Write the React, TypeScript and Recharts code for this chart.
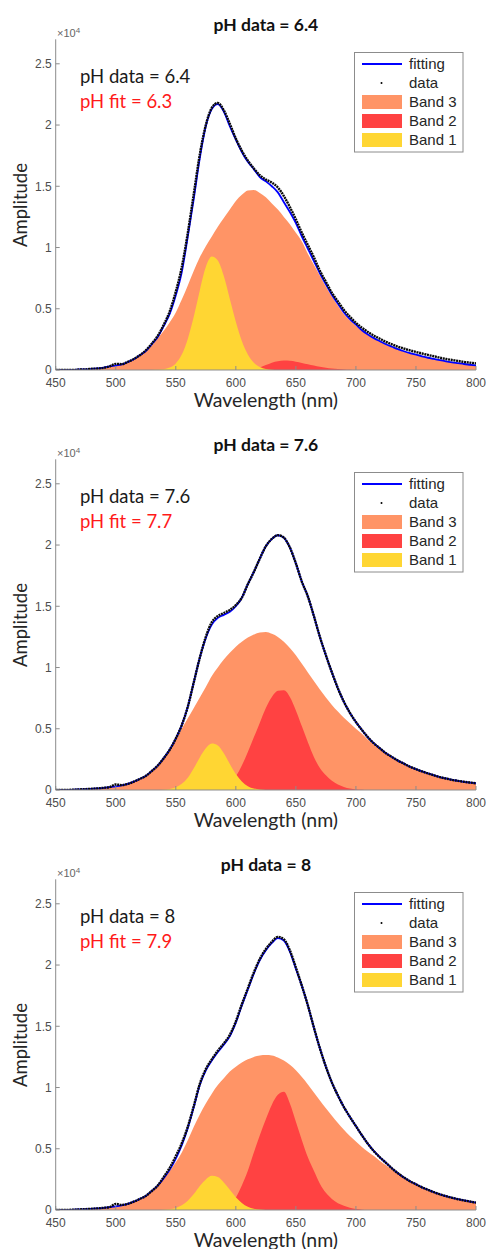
import React from 'react';
import { ComposedChart, Area, Line, XAxis, YAxis } from 'recharts';

// Wavelength samples (nm)
const wavelengths = [
  450, 455, 460, 465, 470, 475, 480, 485, 490, 495,
  500, 505, 510, 515, 520, 525, 530, 535, 540, 545,
  550, 555, 560, 565, 570, 575, 580, 585, 590, 595,
  600, 605, 610, 615, 620, 625, 630, 635, 640, 645,
  650, 655, 660, 665, 670, 675, 680, 685, 690, 695,
  700, 705, 710, 715, 720, 725, 730, 735, 740, 745,
  750, 755, 760, 765, 770, 775, 780, 785, 790, 795,
  800,
];
const xTicks = [450, 500, 550, 600, 650, 700, 750, 800];
const yTicks = [0, 0.5, 1, 1.5, 2, 2.5];

const panelTitles = ['pH data = 6.4', 'pH data = 7.6', 'pH data = 8'];
const phDataLabels = ['pH data = 6.4', 'pH data = 7.6', 'pH data = 8'];
const phFitLabels = ['pH fit = 6.3', 'pH fit = 7.7', 'pH fit = 7.9'];
const legendLabels = ['fitting', 'data', 'Band 3', 'Band 2', 'Band 1'];

// Amplitudes in units of 10^4
// ---- pH 6.4 ----
const fitA = [
  0, 0, 0, 0, 0.005, 0.005, 0.01, 0.013, 0.02, 0.03,
  0.037, 0.045, 0.065, 0.088, 0.12, 0.155, 0.21, 0.27, 0.36, 0.46,
  0.61, 0.8, 1.09, 1.4, 1.73, 1.99, 2.13, 2.17, 2.11, 1.99,
  1.88, 1.78, 1.7, 1.64, 1.575, 1.54, 1.5, 1.45, 1.37, 1.29,
  1.2, 1.09, 0.99, 0.89, 0.79, 0.7, 0.615, 0.54, 0.47, 0.415,
  0.37, 0.325, 0.29, 0.26, 0.235, 0.21, 0.19, 0.17, 0.153, 0.138,
  0.125, 0.112, 0.1, 0.09, 0.08, 0.071, 0.063, 0.056, 0.049, 0.043,
  0.037,
];
const dataA = [
  0, 0, 0, 0, 0.005, 0.005, 0.01, 0.012, 0.018, 0.03,
  0.05, 0.048, 0.066, 0.09, 0.12, 0.16, 0.215, 0.28, 0.37, 0.48,
  0.64, 0.84, 1.12, 1.44, 1.76, 2.0, 2.14, 2.18, 2.12, 2.01,
  1.89, 1.79, 1.71, 1.645, 1.59, 1.555, 1.53, 1.49, 1.42, 1.33,
  1.23, 1.12, 1.02, 0.92, 0.81, 0.72, 0.63, 0.56, 0.49, 0.435,
  0.385, 0.345, 0.31, 0.28, 0.255, 0.23, 0.21, 0.19, 0.175, 0.16,
  0.147, 0.135, 0.123, 0.112, 0.1, 0.09, 0.082, 0.074, 0.066, 0.06,
  0.054,
];
const band3A = [
  0, 0, 0, 0, 0, 0.005, 0.005, 0.01, 0.015, 0.025,
  0.035, 0.045, 0.06, 0.085, 0.115, 0.15, 0.2, 0.26, 0.32, 0.39,
  0.47, 0.575, 0.69, 0.81, 0.92, 1.01, 1.09, 1.17, 1.24, 1.31,
  1.38, 1.43, 1.465, 1.47, 1.445, 1.41, 1.36, 1.31, 1.25, 1.19,
  1.12, 1.05, 0.95, 0.86, 0.77, 0.68, 0.6, 0.525, 0.455, 0.405,
  0.36, 0.32, 0.285, 0.255, 0.23, 0.205, 0.185, 0.165, 0.148, 0.133,
  0.12, 0.108, 0.097, 0.087, 0.077, 0.069, 0.061, 0.054, 0.047, 0.041,
  0.035,
];
const band2A = [
  0, 0, 0, 0, 0, 0, 0, 0, 0, 0,
  0, 0, 0, 0, 0, 0, 0, 0, 0, 0,
  0, 0, 0, 0, 0, 0, 0, 0, 0, 0,
  0, 0, 0, 0.005, 0.02, 0.04, 0.06, 0.072, 0.077, 0.075,
  0.068, 0.058, 0.047, 0.036, 0.026, 0.018, 0.012, 0.008, 0.005, 0.003,
  0.001, 0, 0, 0, 0, 0, 0, 0, 0, 0,
  0, 0, 0, 0, 0, 0, 0, 0, 0, 0,
  0,
];
const band1A = [
  0, 0, 0, 0, 0, 0, 0, 0, 0, 0,
  0, 0, 0, 0, 0, 0, 0.001, 0.002, 0.006, 0.02,
  0.054, 0.126, 0.254, 0.436, 0.65, 0.84, 0.927, 0.895, 0.767, 0.58,
  0.394, 0.236, 0.126, 0.059, 0.025, 0.009, 0.003, 0.001, 0, 0,
  0, 0, 0, 0, 0, 0, 0, 0, 0, 0,
  0, 0, 0, 0, 0, 0, 0, 0, 0, 0,
  0, 0, 0, 0, 0, 0, 0, 0, 0, 0,
  0,
];

// ---- pH 7.6 ----
const fitB = [
  0, 0, 0, 0.003, 0.005, 0.007, 0.01, 0.013, 0.018, 0.024,
  0.03, 0.038, 0.05, 0.068, 0.09, 0.115, 0.155, 0.2, 0.26, 0.33,
  0.42, 0.53, 0.68, 0.88, 1.08, 1.24, 1.35, 1.405, 1.43, 1.455,
  1.5, 1.57, 1.68, 1.78, 1.89, 1.99, 2.05, 2.08, 2.06, 1.98,
  1.85, 1.7, 1.58, 1.42, 1.25, 1.1, 0.96, 0.83, 0.72, 0.63,
  0.555, 0.49, 0.43, 0.38, 0.34, 0.3, 0.27, 0.24, 0.215, 0.19,
  0.17, 0.152, 0.135, 0.12, 0.105, 0.094, 0.083, 0.075, 0.067, 0.061,
  0.055,
];
const dataB = [
  0, 0, 0, 0.003, 0.005, 0.007, 0.01, 0.013, 0.018, 0.024,
  0.045, 0.04, 0.05, 0.068, 0.09, 0.115, 0.155, 0.2, 0.26, 0.33,
  0.42, 0.53, 0.68, 0.88, 1.08, 1.25, 1.37, 1.42, 1.445, 1.47,
  1.51, 1.57, 1.68, 1.78, 1.89, 1.99, 2.05, 2.08, 2.06, 1.98,
  1.85, 1.7, 1.58, 1.42, 1.25, 1.1, 0.96, 0.83, 0.72, 0.63,
  0.555, 0.49, 0.43, 0.38, 0.34, 0.3, 0.27, 0.24, 0.215, 0.19,
  0.17, 0.152, 0.135, 0.12, 0.105, 0.094, 0.083, 0.075, 0.067, 0.061,
  0.055,
];
const band3B = [
  0, 0, 0, 0, 0.005, 0.007, 0.01, 0.013, 0.018, 0.024,
  0.03, 0.038, 0.05, 0.068, 0.09, 0.115, 0.155, 0.2, 0.26, 0.33,
  0.41, 0.5, 0.585, 0.67, 0.755, 0.84, 0.93, 1.0, 1.065, 1.12,
  1.17, 1.21, 1.245, 1.27, 1.285, 1.29, 1.275, 1.25, 1.21, 1.16,
  1.1, 1.03, 0.96, 0.89, 0.82, 0.755, 0.695, 0.64, 0.59, 0.545,
  0.5, 0.46, 0.41, 0.37, 0.33, 0.295, 0.265, 0.235, 0.21, 0.19,
  0.17, 0.15, 0.135, 0.12, 0.105, 0.094, 0.083, 0.075, 0.067, 0.061,
  0.055,
];
const band2B = [
  0, 0, 0, 0, 0, 0, 0, 0, 0, 0,
  0, 0, 0, 0, 0, 0, 0, 0, 0, 0,
  0, 0, 0, 0, 0, 0, 0, 0, 0.02, 0.05,
  0.11, 0.2, 0.31, 0.43, 0.55, 0.67, 0.76, 0.81, 0.815, 0.76,
  0.65, 0.52, 0.39, 0.27, 0.18, 0.12, 0.075, 0.045, 0.025, 0.012,
  0.005, 0.002, 0, 0, 0, 0, 0, 0, 0, 0,
  0, 0, 0, 0, 0, 0, 0, 0, 0, 0,
  0,
];
const band1B = [
  0, 0, 0, 0, 0, 0, 0, 0, 0, 0,
  0, 0, 0, 0, 0, 0, 0, 0, 0.003, 0.008,
  0.022, 0.051, 0.1, 0.178, 0.266, 0.34, 0.379, 0.363, 0.3, 0.213,
  0.13, 0.069, 0.031, 0.012, 0.004, 0.001, 0, 0, 0, 0,
  0, 0, 0, 0, 0, 0, 0, 0, 0, 0,
  0, 0, 0, 0, 0, 0, 0, 0, 0, 0,
  0, 0, 0, 0, 0, 0, 0, 0, 0, 0,
  0,
];

// ---- pH 8 ----
const fitC = [
  0, 0, 0, 0.003, 0.005, 0.007, 0.01, 0.013, 0.018, 0.024,
  0.03, 0.038, 0.05, 0.068, 0.09, 0.115, 0.155, 0.2, 0.26, 0.33,
  0.42, 0.53, 0.67, 0.84, 1.02, 1.14, 1.22, 1.29, 1.35, 1.42,
  1.53, 1.67, 1.8, 1.93, 2.04, 2.12, 2.18, 2.22, 2.2, 2.11,
  1.97, 1.83, 1.67, 1.49, 1.32, 1.17, 1.04, 0.935, 0.84, 0.76,
  0.685, 0.61, 0.54, 0.48, 0.43, 0.385, 0.34, 0.3, 0.265, 0.235,
  0.21, 0.185, 0.165, 0.145, 0.128, 0.113, 0.1, 0.088, 0.078, 0.069,
  0.06,
];
const dataC = [
  0, 0, 0, 0.003, 0.005, 0.007, 0.01, 0.013, 0.018, 0.024,
  0.05, 0.042, 0.05, 0.068, 0.09, 0.115, 0.155, 0.2, 0.27, 0.345,
  0.44, 0.545, 0.68, 0.85, 1.03, 1.15, 1.23, 1.3, 1.36, 1.43,
  1.54, 1.68, 1.81, 1.94, 2.05, 2.13, 2.19, 2.23, 2.21, 2.12,
  1.98, 1.83, 1.67, 1.49, 1.32, 1.17, 1.04, 0.935, 0.84, 0.76,
  0.685, 0.61, 0.54, 0.48, 0.43, 0.385, 0.34, 0.3, 0.265, 0.235,
  0.21, 0.185, 0.165, 0.145, 0.128, 0.113, 0.1, 0.088, 0.078, 0.069,
  0.06,
];
const band3C = [
  0, 0, 0, 0, 0.005, 0.007, 0.01, 0.013, 0.018, 0.024,
  0.03, 0.038, 0.05, 0.068, 0.09, 0.115, 0.155, 0.2, 0.255, 0.32,
  0.39, 0.47, 0.57, 0.68, 0.78, 0.87, 0.95, 1.02, 1.075, 1.13,
  1.17, 1.205, 1.23, 1.25, 1.262, 1.265, 1.262, 1.245, 1.22, 1.185,
  1.14, 1.085, 1.025, 0.96, 0.895, 0.83, 0.77, 0.71, 0.655, 0.605,
  0.56, 0.515, 0.475, 0.44, 0.4, 0.365, 0.33, 0.295, 0.262, 0.233,
  0.208, 0.184, 0.164, 0.144, 0.127, 0.112, 0.099, 0.087, 0.077, 0.068,
  0.059,
];
const band2C = [
  0, 0, 0, 0, 0, 0, 0, 0, 0, 0,
  0, 0, 0, 0, 0, 0, 0, 0, 0, 0,
  0, 0, 0, 0, 0, 0, 0, 0.005, 0.015, 0.04,
  0.1, 0.2, 0.32, 0.47, 0.61, 0.74, 0.86, 0.94, 0.965, 0.87,
  0.72, 0.57, 0.43, 0.32, 0.215, 0.14, 0.09, 0.055, 0.035, 0.018,
  0.008, 0.003, 0, 0, 0, 0, 0, 0, 0, 0,
  0, 0, 0, 0, 0, 0, 0, 0, 0, 0,
  0,
];
const band1C = [
  0, 0, 0, 0, 0, 0, 0, 0, 0, 0,
  0, 0, 0, 0, 0, 0, 0, 0, 0.002, 0.006,
  0.016, 0.038, 0.076, 0.13, 0.196, 0.25, 0.279, 0.27, 0.225, 0.165,
  0.105, 0.058, 0.027, 0.011, 0.004, 0.001, 0, 0, 0, 0,
  0, 0, 0, 0, 0, 0, 0, 0, 0, 0,
  0, 0, 0, 0, 0, 0, 0, 0, 0, 0,
  0, 0, 0, 0, 0, 0, 0, 0, 0, 0,
  0,
];

const COLORS = {
  fit: '#0000FF',
  data: '#0a0a0a',
  band3: '#FF9466',
  band2: '#FF4242',
  band1: '#FFD633',
  axis: '#8c8c8c',
  tick: '#4d4d4d',
  red: '#FF1A1A',
};

const SANS = '"Liberation Sans", Arial, Helvetica, sans-serif';
const CAL = 'Lato, "Open Sans", sans-serif';

type PanelProps = {
  top: number;
  idx: number;
  fit: number[];
  data: number[];
  b1: number[];
  b2: number[];
  b3: number[];
};

function Panel({ top, idx, fit, data, b1, b2, b3 }: PanelProps) {
  const rows = wavelengths.map((nm, i) => ({
    nm,
    fit: fit[i],
    data: data[i],
    band1: b1[i],
    band2: b2[i],
    band3: b3[i],
  }));
  const legendRows = [64, 83, 102, 121, 140];
  const swatchColors = [null, null, COLORS.band3, COLORS.band2, COLORS.band1];
  return (
    <div style={{ position: 'absolute', left: 0, top, width: 487, height: 420 }}>
      <ComposedChart
        width={487}
        height={420}
        data={rows}
        margin={{ top: 39.3, right: 11, bottom: 20, left: 25.7 }}
      >
        <XAxis
          dataKey="nm"
          type="number"
          domain={[450, 800]}
          ticks={xTicks}
          allowDataOverflow
          height={30}
          tickSize={-4}
          tickMargin={12}
          axisLine={{ stroke: COLORS.axis }}
          tickLine={{ stroke: COLORS.axis }}
          tick={{ fill: COLORS.tick, fontSize: 12, fontFamily: SANS }}
        />
        <XAxis
          xAxisId="top"
          orientation="top"
          dataKey="nm"
          type="number"
          domain={[450, 800]}
          ticks={xTicks}
          allowDataOverflow
          height={0}
          tickSize={-4}
          tick={false}
          axisLine={{ stroke: COLORS.axis }}
          tickLine={{ stroke: COLORS.axis }}
        />
        <YAxis
          type="number"
          domain={[0, 2.7]}
          ticks={yTicks}
          allowDataOverflow
          width={30}
          tickSize={-4}
          tickMargin={8}
          axisLine={{ stroke: COLORS.axis }}
          tickLine={{ stroke: COLORS.axis }}
          tick={{ fill: COLORS.tick, fontSize: 12, fontFamily: SANS }}
          tickFormatter={(v: number) => String(v)}
        />
        <YAxis
          yAxisId="right"
          orientation="right"
          type="number"
          domain={[0, 2.7]}
          ticks={yTicks}
          allowDataOverflow
          width={0}
          tickSize={-4}
          tick={false}
          axisLine={{ stroke: COLORS.axis }}
          tickLine={{ stroke: COLORS.axis }}
        />
        <Area
          dataKey="band3"
          type="monotone"
          fill={COLORS.band3}
          fillOpacity={1}
          stroke="none"
          isAnimationActive={false}
          dot={false}
          activeDot={false}
        />
        <Area
          dataKey="band2"
          type="monotone"
          fill={COLORS.band2}
          fillOpacity={1}
          stroke="none"
          isAnimationActive={false}
          dot={false}
          activeDot={false}
        />
        <Area
          dataKey="band1"
          type="monotone"
          fill={COLORS.band1}
          fillOpacity={1}
          stroke="none"
          isAnimationActive={false}
          dot={false}
          activeDot={false}
        />
        <Line
          dataKey="fit"
          type="monotone"
          stroke={COLORS.fit}
          strokeWidth={1.8}
          dot={false}
          activeDot={false}
          isAnimationActive={false}
        />
        <Line
          dataKey="data"
          type="monotone"
          stroke={COLORS.data}
          strokeWidth={2.4}
          strokeDasharray="2 0.7"
          dot={false}
          activeDot={false}
          isAnimationActive={false}
        />
      </ComposedChart>
      <svg
        width={487}
        height={420}
        style={{ position: 'absolute', left: 0, top: 0, pointerEvents: 'none' }}
      >
        <text x={265.9} y={30.5} textAnchor="middle" fontFamily={CAL} fontWeight={700} fontSize={17.5} fill="#111">
          {panelTitles[idx]}
        </text>
        <text x={57} y={36.5} fontFamily={SANS} fontSize={11} fill="#666">
          ×10<tspan dy={-4} fontSize={8}>4</tspan>
        </text>
        <text x={80} y={82.7} fontFamily={CAL} fontSize={18.5} fill="#1a1a1a">
          {phDataLabels[idx]}
        </text>
        <text x={80} y={107.7} fontFamily={CAL} fontSize={18.5} fill={COLORS.red}>
          {phFitLabels[idx]}
        </text>
        <rect x={354.5} y={52.5} width={108.5} height={99.5} fill="#fff" stroke="#8c8c8c" strokeWidth={1} />
        {legendLabels.map((lab, i) => {
          const cy = legendRows[i];
          return (
            <g key={lab}>
              {i === 0 && <line x1={362} x2={402} y1={cy} y2={cy} stroke={COLORS.fit} strokeWidth={2} />}
              {i === 1 && <circle cx={381.5} cy={cy} r={1} fill="#000" />}
              {i >= 2 && <rect x={362} y={cy - 7} width={40} height={14} fill={swatchColors[i] as string} />}
              <text x={409} y={cy + 5} fontFamily={SANS} fontSize={15} fill="#262626">
                {lab}
              </text>
            </g>
          );
        })}
        <text x={265.9} y={407} textAnchor="middle" fontFamily={CAL} fontSize={19.5} fill="#262626">
          Wavelength (nm)
        </text>
        <text
          transform="translate(26.5,205) rotate(-90)"
          textAnchor="middle"
          fontFamily={CAL}
          fontSize={18.5}
          fill="#262626"
        >
          Amplitude
        </text>
      </svg>
    </div>
  );
}

export default function App() {
  return (
    <div
      style={{
        position: 'absolute',
        left: 0,
        top: 0,
        width: 487,
        height: 1249,
        overflow: 'hidden',
        background: '#fff',
      }}
    >
      <Panel top={0} idx={0} fit={fitA} data={dataA} b1={band1A} b2={band2A} b3={band3A} />
      <Panel top={420} idx={1} fit={fitB} data={dataB} b1={band1B} b2={band2B} b3={band3B} />
      <Panel top={840} idx={2} fit={fitC} data={dataC} b1={band1C} b2={band2C} b3={band3C} />
    </div>
  );
}
